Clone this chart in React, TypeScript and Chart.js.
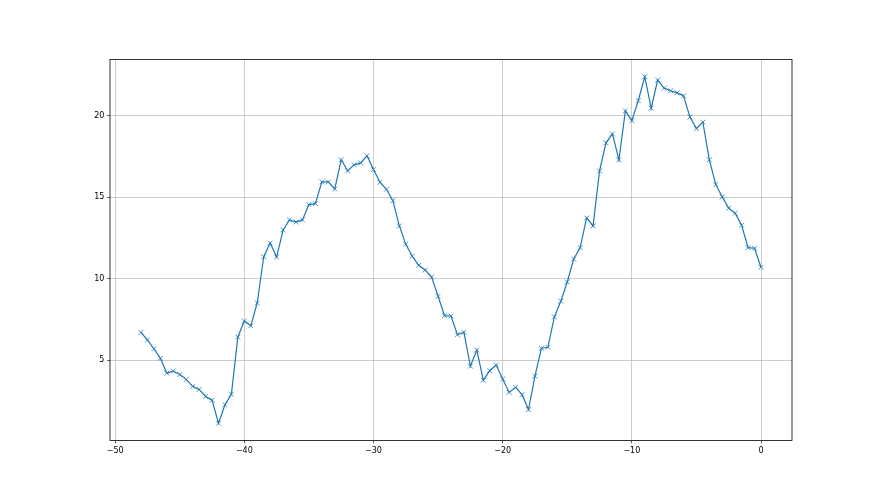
import React, { useEffect, useRef } from "react";
import { Chart, registerables } from "chart.js";

Chart.register(...registerables);

const xValues: number[] = [
  -48, -47.5, -47, -46.5, -46, -45.5, -45, -44.5, -44, -43.5,
  -43, -42.5, -42, -41.5, -41, -40.5, -40, -39.5, -39, -38.5,
  -38, -37.5, -37, -36.5, -36, -35.5, -35, -34.5, -34, -33.5,
  -33, -32.5, -32, -31.5, -31, -30.5, -30, -29.5, -29, -28.5,
  -28, -27.5, -27, -26.5, -26, -25.5, -25, -24.5, -24, -23.5,
  -23, -22.5, -22, -21.5, -21, -20.5, -20, -19.5, -19, -18.5,
  -18, -17.5, -17, -16.5, -16, -15.5, -15, -14.5, -14, -13.5,
  -13, -12.5, -12, -11.5, -11, -10.5, -10, -9.5, -9, -8.5,
  -8, -7.5, -7, -6.5, -6, -5.5, -5, -4.5, -4, -3.5,
  -3, -2.5, -2, -1.5, -1, -0.5, 0,
];

const yValues: number[] = [
  6.71, 6.23, 5.7, 5.11, 4.2, 4.33, 4.12, 3.82, 3.39, 3.2,
  2.77, 2.54, 1.13, 2.26, 2.91, 6.42, 7.4, 7.11, 8.51, 11.35,
  12.19, 11.33, 12.99, 13.61, 13.48, 13.61, 14.55, 14.61, 15.94, 15.94,
  15.51, 17.3, 16.62, 16.99, 17.11, 17.54, 16.7, 15.92, 15.49, 14.79,
  13.24, 12.11, 11.38, 10.82, 10.53, 10.1, 8.92, 7.73, 7.71, 6.56,
  6.71, 4.63, 5.62, 3.77, 4.35, 4.7, 3.84, 3.02, 3.33, 2.88,
  1.97, 4.02, 5.73, 5.79, 7.65, 8.62, 9.8, 11.21, 11.91, 13.73,
  13.24, 16.62, 18.34, 18.89, 17.3, 20.3, 19.7, 20.94, 22.4, 20.47,
  22.19, 21.7, 21.54, 21.41, 21.23, 19.92, 19.22, 19.61, 17.3, 15.78,
  15.02, 14.33, 14.02, 13.28, 11.91, 11.87, 10.7,
];

const xTicks: number[] = [-50, -40, -30, -20, -10, 0];
const yTicks: number[] = [5, 10, 15, 20];

const fmt = (v: number) => (v < 0 ? "\u2212" + Math.abs(v) : String(v));

export default function App() {
  const ref = useRef<HTMLCanvasElement | null>(null);

  useEffect(() => {
    if (!ref.current) return;
    const xMinD = Math.min(...xValues);
    const xMaxD = Math.max(...xValues);
    const yMinD = Math.min(...yValues);
    const yMaxD = Math.max(...yValues);
    const xm = (xMaxD - xMinD) * 0.05;
    const ym = (yMaxD - yMinD) * 0.05;

    const framePlugin = {
      id: "frame",
      afterDraw(chart: any) {
        const { ctx, chartArea } = chart;
        ctx.save();
        ctx.strokeStyle = "#000";
        ctx.lineWidth = 0.8;
        ctx.strokeRect(
          chartArea.left,
          chartArea.top,
          chartArea.right - chartArea.left,
          chartArea.bottom - chartArea.top
        );
        ctx.restore();
      },
    };

    const font = { family: "'DejaVu Sans'", size: 8 };

    const chart = new Chart(ref.current, {
      type: "line",
      data: {
        datasets: [
          {
            data: xValues.map((x, i) => ({ x, y: yValues[i] })),
            borderColor: "#1f77b4",
            borderWidth: 1.2,
            pointStyle: "crossRot",
            pointRadius: 3.4,
            pointBorderWidth: 0.8,
            pointBorderColor: "#1f77b4",
            pointBackgroundColor: "#1f77b4",
            tension: 0,
            fill: false,
          },
        ],
      },
      options: {
        animation: false,
        responsive: false,
        devicePixelRatio: 1,
        layout: { padding: { left: 80, right: 88, top: 59.4, bottom: 34.5 } },
        plugins: {
          legend: { display: false },
          tooltip: { enabled: false },
        },
        scales: {
          x: {
            type: "linear",
            min: xMinD - xm,
            max: xMaxD + xm,
            afterFit: (s: any) => {
              s.height = 20;
            },
            afterBuildTicks: (s: any) => {
              s.ticks = xTicks.map((v) => ({ value: v }));
            },
            grid: {
              color: "#b0b0b0",
              lineWidth: 0.64,
              drawTicks: true,
              tickLength: 2.8,
              tickColor: "#000",
              tickWidth: 0.64,
            },
            border: { display: false },
            ticks: {
              font,
              color: "#000",
              padding: 2.8,
              maxRotation: 0,
              autoSkip: false,
              callback: (v: any) => fmt(Number(v)),
            },
          },
          y: {
            type: "linear",
            min: yMinD - ym,
            max: yMaxD + ym,
            afterFit: (s: any) => {
              s.width = 30;
            },
            afterBuildTicks: (s: any) => {
              s.ticks = yTicks.map((v) => ({ value: v }));
            },
            grid: {
              color: "#b0b0b0",
              lineWidth: 0.64,
              drawTicks: true,
              tickLength: 2.8,
              tickColor: "#000",
              tickWidth: 0.64,
            },
            border: { display: false },
            ticks: {
              font,
              color: "#000",
              padding: 2.8,
              autoSkip: false,
              callback: (v: any) => fmt(Number(v)),
            },
          },
        },
      },
      plugins: [framePlugin],
    });

    return () => chart.destroy();
  }, []);

  return (
    <div
      style={{
        position: "fixed",
        left: 0,
        top: 0,
        width: 880,
        height: 495,
        background: "#fff",
      }}
    >
      <canvas ref={ref} width={880} height={495} style={{ width: 880, height: 495 }} />
    </div>
  );
}
